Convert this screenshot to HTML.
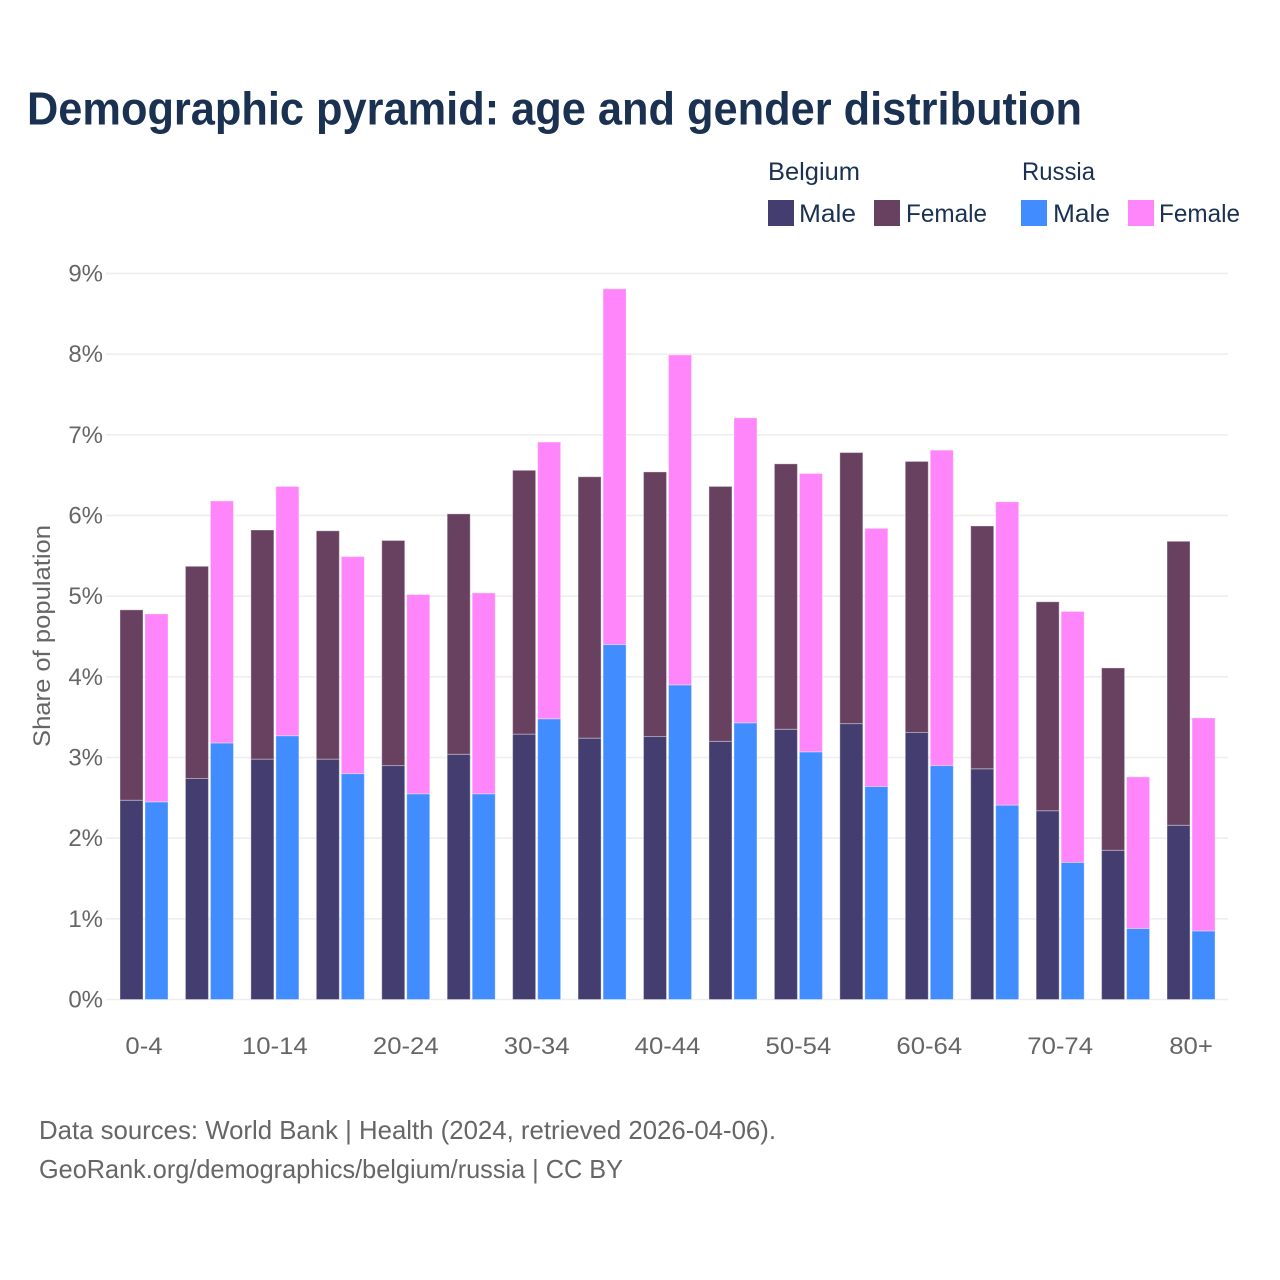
<!DOCTYPE html>
<html lang="en">
<head>
<meta charset="utf-8">
<title>Demographic pyramid</title>
<style>
html,body{margin:0;padding:0;background:#fff;}
svg{display:block;font-family:"Liberation Sans",sans-serif;}
</style>
</head>
<body>
<svg id="chart" width="1280" height="1280" viewBox="0 0 1280 1280" xmlns="http://www.w3.org/2000/svg">
  <rect x="0" y="0" width="1280" height="1280" fill="#ffffff"/>
  <text x="27" y="124.5" font-size="46" font-weight="700" fill="#1a3152" textLength="1055" lengthAdjust="spacingAndGlyphs">Demographic pyramid: age and gender distribution</text>

  <g font-size="25" fill="#1a3152">
    <text x="768" y="180" textLength="92" lengthAdjust="spacingAndGlyphs">Belgium</text>
    <text x="1022" y="180" textLength="73" lengthAdjust="spacingAndGlyphs">Russia</text>
    <rect x="768" y="200" width="26" height="26" fill="#433e6f"/>
    <text x="799" y="222" textLength="57" lengthAdjust="spacingAndGlyphs">Male</text>
    <rect x="874" y="200" width="26" height="26" fill="#684161"/>
    <text x="906" y="222" textLength="81" lengthAdjust="spacingAndGlyphs">Female</text>
    <rect x="1021" y="200" width="26" height="26" fill="#418cff"/>
    <text x="1053" y="222" textLength="57" lengthAdjust="spacingAndGlyphs">Male</text>
    <rect x="1128" y="200" width="26" height="26" fill="#ff85fa"/>
    <text x="1159" y="222" textLength="81" lengthAdjust="spacingAndGlyphs">Female</text>
  </g>

  <text transform="translate(50,636) rotate(-90)" text-anchor="middle" font-size="24" fill="#666666" textLength="222" lengthAdjust="spacingAndGlyphs">Share of population</text>

  <g id="grid"></g>
  <g id="bars"></g>
  <g id="xticks"></g>

  <g font-size="26" fill="#666666">
    <text x="39" y="1139" textLength="737" lengthAdjust="spacingAndGlyphs">Data sources: World Bank | Health (2024, retrieved 2026-04-06).</text>
    <text x="39" y="1178" textLength="584" lengthAdjust="spacingAndGlyphs">GeoRank.org/demographics/belgium/russia | CC BY</text>
  </g>
</svg>
<script>
const ageGroups = ["0-4","5-9","10-14","15-19","20-24","25-29","30-34","35-39","40-44","45-49","50-54","55-59","60-64","65-69","70-74","75-79","80+"];
const xTickLabels = ["0-4","","10-14","","20-24","","30-34","","40-44","","50-54","","60-64","","70-74","","80+"];
const yTicks = [0,1,2,3,4,5,6,7,8,9];
const belgiumMale = [2.47,2.74,2.98,2.98,2.90,3.04,3.29,3.24,3.26,3.20,3.35,3.42,3.31,2.86,2.34,1.85,2.16];
const belgiumFemale = [2.36,2.63,2.84,2.83,2.79,2.98,3.27,3.24,3.28,3.16,3.29,3.36,3.36,3.01,2.59,2.26,3.52];
const russiaMale = [2.45,3.18,3.27,2.80,2.55,2.55,3.48,4.40,3.90,3.43,3.07,2.64,2.90,2.41,1.70,0.88,0.85];
const russiaFemale = [2.33,3.00,3.09,2.69,2.47,2.49,3.43,4.41,4.09,3.78,3.45,3.20,3.91,3.76,3.11,1.88,2.64];

const NS = "http://www.w3.org/2000/svg";
const yScale = v => 999.5 - v * 80.67;
const groupX = i => 120 + i * 65.44;
const barW = 23;
const barGap = 25;

function make(tag, parent, attrs) {
  const el = document.createElementNS(NS, tag);
  for (const k in attrs) el.setAttribute(k, attrs[k]);
  parent.appendChild(el);
  return el;
}

const grid = document.getElementById("grid");
yTicks.forEach(t => {
  const line = make("line", grid, {x1:106, x2:1228, y1:yScale(t), y2:yScale(t), stroke:"#eeeeee", "stroke-width":1.6});
  
  
  const label = make("text", grid, {x:103, y:yScale(t)+8, "text-anchor":"end", "font-size":24, fill:"#666666"});
  
  
  label.textContent = t + "%";
});

const bars = document.getElementById("bars");
function segment(x, base, value, color, name) {
  const top = yScale(base + value);
  const rect = make("rect", bars, {x:x, y:top, width:barW, height:yScale(base) - top, fill:color, stroke:"#ffffff", "stroke-opacity":0.35, "stroke-width":1});
  
  
}
ageGroups.forEach((g, i) => {
  const x = groupX(i);
  segment(x, 0, belgiumMale[i], "#433e6f", "bar-belgium-male");
  segment(x, belgiumMale[i], belgiumFemale[i], "#684161", "bar-belgium-female");
  segment(x + barGap, 0, russiaMale[i], "#418cff", "bar-russia-male");
  segment(x + barGap, russiaMale[i], russiaFemale[i], "#ff85fa", "bar-russia-female");
});

const xticks = document.getElementById("xticks");
xTickLabels.forEach((lab, i) => {
  if (!lab) return;
  const t = make("text", xticks, {x:groupX(i)+24, y:1054, "text-anchor":"middle", "font-size":24, fill:"#666666"});
  
  
  t.textContent = lab;
  t.setAttribute("textLength", (t.getComputedTextLength() * 1.07).toFixed(1));
  t.setAttribute("lengthAdjust", "spacingAndGlyphs");
});
</script>
</body>
</html>
